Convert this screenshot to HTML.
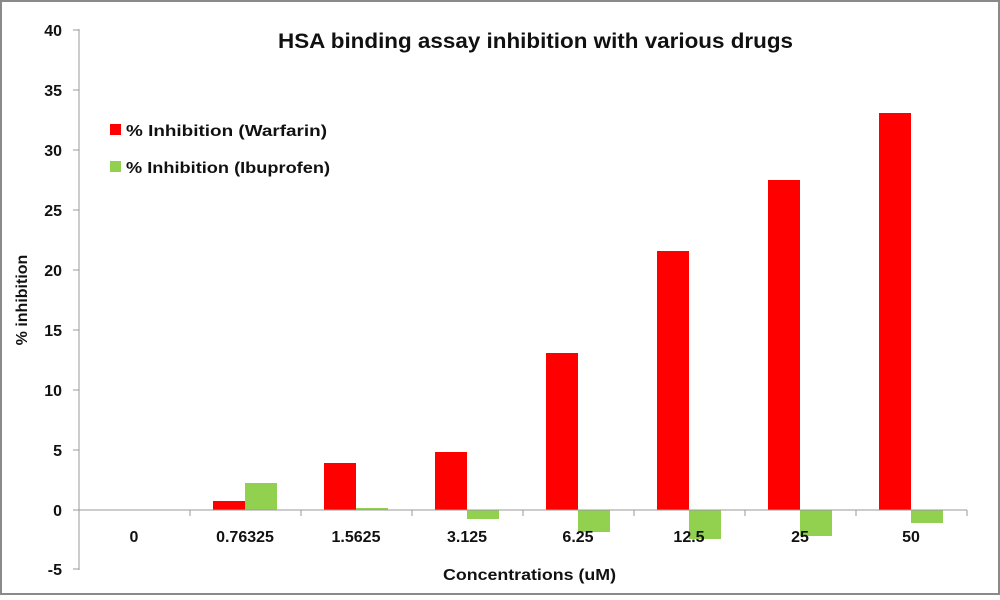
<!DOCTYPE html>
<html><head><style>
body{margin:0;background:#fff}
svg text{font-family:"Liberation Sans",sans-serif;}
</style></head><body>
<svg width="1000" height="595" xmlns="http://www.w3.org/2000/svg">
<rect x="1" y="1" width="998" height="593" fill="#fff" stroke="#8a8a8a" stroke-width="2"/>
<text x="278" y="48" font-size="21" font-weight="bold" fill="#111" textLength="515" lengthAdjust="spacingAndGlyphs">HSA binding assay inhibition with various drugs</text>
<!-- bars: zero y=510, 11.99 px/unit -->
<g fill="#ff0000">
<rect x="213" y="501" width="32" height="9"/>
<rect x="324" y="463" width="32" height="47"/>
<rect x="435" y="452" width="32" height="58"/>
<rect x="546" y="353" width="32" height="157"/>
<rect x="657" y="251" width="32" height="259"/>
<rect x="768" y="180" width="32" height="330"/>
<rect x="879" y="113" width="32" height="397"/>
</g>
<g fill="#92d050">
<rect x="245" y="483" width="32" height="27"/>
<rect x="356" y="508" width="32" height="2"/>
<rect x="467" y="510" width="32" height="9"/>
<rect x="578" y="510" width="32" height="22"/>
<rect x="689" y="510" width="32" height="29"/>
<rect x="800" y="510" width="32" height="26"/>
<rect x="911" y="510" width="32" height="13"/>
</g>
<!-- axes -->
<line x1="79" y1="29" x2="79" y2="570" stroke="#999" stroke-width="1"/>
<g stroke="#999" stroke-width="1">
<line x1="73" y1="30" x2="79" y2="30"/><line x1="73" y1="90" x2="79" y2="90"/><line x1="73" y1="150" x2="79" y2="150"/><line x1="73" y1="210" x2="79" y2="210"/><line x1="73" y1="270" x2="79" y2="270"/><line x1="73" y1="330" x2="79" y2="330"/><line x1="73" y1="390" x2="79" y2="390"/><line x1="73" y1="450" x2="79" y2="450"/><line x1="73" y1="510" x2="79" y2="510"/><line x1="73" y1="569" x2="79" y2="569"/>
<line x1="79" y1="510" x2="967" y2="510"/>
<line x1="190" y1="510" x2="190" y2="516"/><line x1="301" y1="510" x2="301" y2="516"/><line x1="412" y1="510" x2="412" y2="516"/><line x1="523" y1="510" x2="523" y2="516"/><line x1="634" y1="510" x2="634" y2="516"/><line x1="745" y1="510" x2="745" y2="516"/><line x1="856" y1="510" x2="856" y2="516"/><line x1="967" y1="510" x2="967" y2="516"/>
</g>
<g font-size="16" font-weight="bold" text-anchor="end" fill="#111">
<text x="62" y="36">40</text><text x="62" y="96">35</text><text x="62" y="156">30</text><text x="62" y="216">25</text><text x="62" y="276">20</text><text x="62" y="336">15</text><text x="62" y="396">10</text><text x="62" y="456">5</text><text x="62" y="516">0</text><text x="62" y="575">-5</text>
</g>
<g font-size="16" font-weight="bold" text-anchor="middle" fill="#111">
<text x="134" y="542">0</text><text x="245" y="542">0.76325</text><text x="356" y="542">1.5625</text><text x="467" y="542">3.125</text><text x="578" y="542">6.25</text><text x="689" y="542">12.5</text><text x="800" y="542">25</text><text x="911" y="542">50</text>
</g>
<text x="443" y="580" font-size="16" font-weight="bold" fill="#111" textLength="173" lengthAdjust="spacingAndGlyphs">Concentrations (uM)</text>
<text transform="translate(27,300) rotate(-90)" font-size="16" font-weight="bold" text-anchor="middle" fill="#111">% inhibition</text>
<!-- legend -->
<rect x="110" y="124" width="11" height="11" fill="#ff0000"/>
<text x="126" y="136" font-size="16" font-weight="bold" fill="#111" textLength="201" lengthAdjust="spacingAndGlyphs">% Inhibition (Warfarin)</text>
<rect x="110" y="161" width="11" height="11" fill="#92d050"/>
<text x="126" y="173" font-size="16" font-weight="bold" fill="#111" textLength="204" lengthAdjust="spacingAndGlyphs">% Inhibition (Ibuprofen)</text>
</svg>
</body></html>
